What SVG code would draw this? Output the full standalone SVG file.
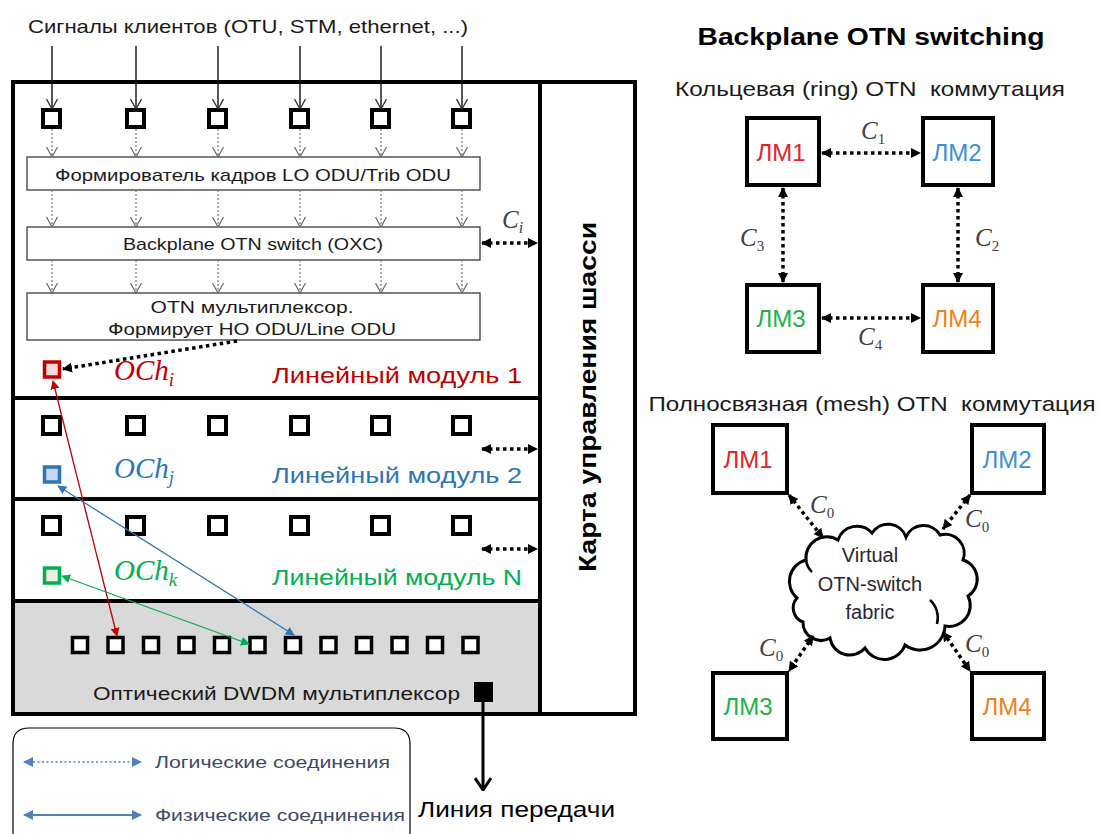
<svg xmlns="http://www.w3.org/2000/svg" width="1099" height="834" viewBox="0 0 1099 834">
  <style>
    .t { font-family: "Liberation Sans", Arial, sans-serif; fill: #1a1a1a; }
    .tb { font-family: "Liberation Sans", Arial, sans-serif; font-weight: bold; fill: #000; }
    .m { font-family: "Liberation Serif", "DejaVu Serif", serif; font-style: italic; }
    .c { font-family: "Liberation Serif", "DejaVu Serif", serif; font-style: italic; fill: #404040; font-size: 25px; }
    .sub { font-style: normal; font-size: 15px; }
    .frame { fill: none; stroke: #000; stroke-width: 4; }
    .sq { fill: #fff; stroke: #000; stroke-width: 4; }
    .sqd { fill: #fff; stroke: #000; stroke-width: 3.5; }
    .box { fill: #fff; stroke: #3a3a3a; stroke-width: 1.3; }
    .node { fill: #fff; stroke: #000; stroke-width: 4; }
    .lm { font-family: "Liberation Sans", Arial, sans-serif; font-size: 24px; }
    .in { stroke: #111; stroke-width: 1.4; fill: none; marker-end: url(#vOpen); }
    .flow { stroke: #777; stroke-width: 1.2; stroke-dasharray: 2 2; fill: none; marker-end: url(#vGray); }
    .logic { stroke: #000; stroke-width: 3.5; stroke-dasharray: 3.5 3.5; fill: none; marker-start: url(#tri); marker-end: url(#tri); }
    .logic1 { stroke: #000; stroke-width: 3.5; stroke-dasharray: 3.5 3.5; fill: none; marker-end: url(#tri); }
  </style>
  <defs>
    <marker id="vOpen" viewBox="0 0 10 12" refX="10" refY="6" markerWidth="10" markerHeight="12" markerUnits="userSpaceOnUse" orient="auto">
      <path d="M0,0.5 L10,6 L0,11.5" fill="none" stroke="#333" stroke-width="1.3"/>
    </marker>
    <marker id="vGray" viewBox="0 0 10 12" refX="10" refY="6" markerWidth="10" markerHeight="12" markerUnits="userSpaceOnUse" orient="auto">
      <path d="M0,0.5 L10,6 L0,11.5" fill="none" stroke="#666" stroke-width="1.2"/>
    </marker>
    <marker id="vBig" viewBox="0 0 14 18" refX="13" refY="9" markerWidth="14" markerHeight="18" markerUnits="userSpaceOnUse" orient="auto">
      <path d="M1,1 L13,9 L1,17" fill="none" stroke="#000" stroke-width="3"/>
    </marker>
    <marker id="tri" viewBox="0 0 10 10" refX="9" refY="5" markerWidth="10" markerHeight="10" markerUnits="userSpaceOnUse" orient="auto-start-reverse">
      <path d="M0,0 L10,5 L0,10 z" fill="#000"/>
    </marker>
    <marker id="triR" viewBox="0 0 10 10" refX="9" refY="5" markerWidth="9" markerHeight="9" markerUnits="userSpaceOnUse" orient="auto-start-reverse">
      <path d="M0,0 L10,5 L0,10 z" fill="#c00000"/>
    </marker>
    <marker id="triB" viewBox="0 0 10 10" refX="9" refY="5" markerWidth="9" markerHeight="9" markerUnits="userSpaceOnUse" orient="auto-start-reverse">
      <path d="M0,0 L10,5 L0,10 z" fill="#2e75b6"/>
    </marker>
    <marker id="triG" viewBox="0 0 10 10" refX="9" refY="5" markerWidth="9" markerHeight="9" markerUnits="userSpaceOnUse" orient="auto-start-reverse">
      <path d="M0,0 L10,5 L0,10 z" fill="#00b050"/>
    </marker>
    <marker id="triL" viewBox="0 0 10 10" refX="9" refY="5" markerWidth="10" markerHeight="10" markerUnits="userSpaceOnUse" orient="auto-start-reverse">
      <path d="M0,0 L10,5 L0,10 z" fill="#4f81bd"/>
    </marker>
  </defs>

  <rect width="1099" height="834" fill="#fff"/>

  <!-- chassis -->
  <g id="chassis">
    <rect x="13" y="601" width="527" height="113" fill="#d9d9d9"/>
    <rect class="frame" x="13" y="82" width="622" height="632"/>
    <line class="frame" x1="540" y1="82" x2="540" y2="714"/>
    <line class="frame" x1="13" y1="398" x2="540" y2="398"/>
    <line class="frame" x1="13" y1="499" x2="540" y2="499"/>
    <line class="frame" x1="13" y1="601" x2="540" y2="601"/>
    <text class="tb" font-size="23" transform="translate(596,397) rotate(-90)" text-anchor="middle" textLength="350" lengthAdjust="spacingAndGlyphs">Карта управления шасси</text>
  </g>

  <text class="t" x="28" y="33" font-size="19" textLength="440" lengthAdjust="spacingAndGlyphs">Сигналы клиентов (OTU, STM, ethernet, ...)</text>

  <!-- line module 1 -->
  <g id="module1">
    <g>
      <rect class="sq" x="43" y="110" width="17" height="17"/>
      <rect class="sq" x="127" y="110" width="17" height="17"/>
      <rect class="sq" x="209" y="110" width="17" height="17"/>
      <rect class="sq" x="291" y="110" width="17" height="17"/>
      <rect class="sq" x="372" y="110" width="17" height="17"/>
      <rect class="sq" x="453" y="110" width="17" height="17"/>
    </g>
    <rect class="box" x="27" y="157" width="453" height="33"/>
    <text class="t" x="253" y="181" font-size="17" text-anchor="middle" textLength="396" lengthAdjust="spacingAndGlyphs">Формирователь кадров LO ODU/Trib ODU</text>
    <rect class="box" x="27" y="227" width="453" height="33"/>
    <text class="t" x="253" y="250" font-size="17" text-anchor="middle" textLength="260" lengthAdjust="spacingAndGlyphs">Backplane OTN switch (OXC)</text>
    <rect class="box" x="27" y="293" width="453" height="47"/>
    <text class="t" x="252" y="313" font-size="17" text-anchor="middle" textLength="203" lengthAdjust="spacingAndGlyphs">OTN мультиплексор.</text>
    <text class="t" x="252" y="335" font-size="17" text-anchor="middle" textLength="288" lengthAdjust="spacingAndGlyphs">Формирует HO ODU/Line ODU</text>
    <rect x="44.5" y="362" width="15" height="15" fill="#f2dcdb" stroke="#c00000" stroke-width="3.5"/>
    <text class="m" x="114" y="380" font-size="29" fill="#c00000">OCh<tspan font-size="19" dy="6">i</tspan></text>
    <text class="t" x="522" y="383" font-size="22" text-anchor="end" style="fill:#c00000" textLength="250" lengthAdjust="spacingAndGlyphs">Линейный модуль 1</text>
    <text class="c" x="502" y="228">C<tspan font-size="16" dy="5">i</tspan></text>
  </g>

  <!-- line module 2 -->
  <g id="module2">
    <rect class="sq" x="43" y="417" width="17" height="17"/>
    <rect class="sq" x="127" y="417" width="17" height="17"/>
    <rect class="sq" x="209" y="417" width="17" height="17"/>
    <rect class="sq" x="291" y="417" width="17" height="17"/>
    <rect class="sq" x="372" y="417" width="17" height="17"/>
    <rect class="sq" x="453" y="417" width="17" height="17"/>
    <rect x="44.5" y="467" width="15" height="15" fill="#c6d9f0" stroke="#2e75b6" stroke-width="3.5"/>
    <text class="m" x="114" y="478" font-size="29" fill="#2e75b6">OCh<tspan font-size="19" dy="6">j</tspan></text>
    <text class="t" x="522" y="483" font-size="22" text-anchor="end" style="fill:#2e75b6" textLength="250" lengthAdjust="spacingAndGlyphs">Линейный модуль 2</text>
  </g>

  <!-- line module N -->
  <g id="moduleN">
    <rect class="sq" x="43" y="517" width="17" height="17"/>
    <rect class="sq" x="127" y="517" width="17" height="17"/>
    <rect class="sq" x="209" y="517" width="17" height="17"/>
    <rect class="sq" x="291" y="517" width="17" height="17"/>
    <rect class="sq" x="372" y="517" width="17" height="17"/>
    <rect class="sq" x="453" y="517" width="17" height="17"/>
    <rect x="44.5" y="568" width="15" height="15" fill="#ebf1de" stroke="#00b050" stroke-width="3.5"/>
    <text class="m" x="114" y="580" font-size="29" fill="#00b050">OCh<tspan font-size="19" dy="6">k</tspan></text>
    <text class="t" x="522" y="585" font-size="22" text-anchor="end" style="fill:#00b050" textLength="250" lengthAdjust="spacingAndGlyphs">Линейный модуль N</text>
  </g>

  <!-- optical DWDM multiplexer -->
  <g id="dwdm">
    <rect class="sqd" x="72.5" y="637.5" width="15" height="15"/>
    <rect class="sqd" x="108" y="637.5" width="15" height="15"/>
    <rect class="sqd" x="143.5" y="637.5" width="15" height="15"/>
    <rect class="sqd" x="179" y="637.5" width="15" height="15"/>
    <rect class="sqd" x="214.5" y="637.5" width="15" height="15"/>
    <rect class="sqd" x="250" y="637.5" width="15" height="15"/>
    <rect class="sqd" x="285.5" y="637.5" width="15" height="15"/>
    <rect class="sqd" x="321" y="637.5" width="15" height="15"/>
    <rect class="sqd" x="356.5" y="637.5" width="15" height="15"/>
    <rect class="sqd" x="392" y="637.5" width="15" height="15"/>
    <rect class="sqd" x="427.5" y="637.5" width="15" height="15"/>
    <rect class="sqd" x="463" y="637.5" width="15" height="15"/>
    <rect x="474" y="682" width="19" height="20" fill="#000"/>
    <text class="t" x="93" y="700" font-size="18" textLength="367" lengthAdjust="spacingAndGlyphs">Оптический DWDM мультиплексор</text>
  </g>

  <text class="t" x="418" y="817" font-size="22" style="fill:#000" textLength="197" lengthAdjust="spacingAndGlyphs">Линия передачи</text>

  <!-- legend -->
  <g id="legend">
    <path d="M13,834 V744 Q13,728 29,728 H394 Q410,728 410,744 V834" fill="none" stroke="#000" stroke-width="1.2"/>
    <line x1="24" y1="762" x2="141" y2="762" stroke="#4f81bd" stroke-width="1.6" stroke-dasharray="2 2.5" marker-start="url(#triL)" marker-end="url(#triL)"/>
    <text class="t" x="155" y="768" font-size="16" style="fill:#3c4a66" textLength="235" lengthAdjust="spacingAndGlyphs">Логические соединения</text>
    <line x1="24" y1="815" x2="141" y2="815" stroke="#4f81bd" stroke-width="2.2" marker-start="url(#triL)" marker-end="url(#triL)"/>
    <text class="t" x="155" y="821" font-size="16" style="fill:#3c4a66" textLength="250" lengthAdjust="spacingAndGlyphs">Физические соеднинения</text>
  </g>

  <!-- connectors of the chassis -->
  <g id="chassis-connectors">
    <line class="in" x1="52" y1="46" x2="52" y2="109"/>
    <line class="in" x1="136" y1="46" x2="136" y2="109"/>
    <line class="in" x1="218" y1="46" x2="218" y2="109"/>
    <line class="in" x1="300" y1="46" x2="300" y2="109"/>
    <line class="in" x1="381" y1="46" x2="381" y2="109"/>
    <line class="in" x1="462" y1="46" x2="462" y2="109"/>

    <line class="flow" x1="52" y1="129" x2="52" y2="157"/>
    <line class="flow" x1="136" y1="129" x2="136" y2="157"/>
    <line class="flow" x1="218" y1="129" x2="218" y2="157"/>
    <line class="flow" x1="300" y1="129" x2="300" y2="157"/>
    <line class="flow" x1="381" y1="129" x2="381" y2="157"/>
    <line class="flow" x1="462" y1="129" x2="462" y2="157"/>

    <line class="flow" x1="52" y1="190" x2="52" y2="227"/>
    <line class="flow" x1="136" y1="190" x2="136" y2="227"/>
    <line class="flow" x1="218" y1="190" x2="218" y2="227"/>
    <line class="flow" x1="300" y1="190" x2="300" y2="227"/>
    <line class="flow" x1="381" y1="190" x2="381" y2="227"/>
    <line class="flow" x1="462" y1="190" x2="462" y2="227"/>

    <line class="flow" x1="52" y1="260" x2="52" y2="293"/>
    <line class="flow" x1="136" y1="260" x2="136" y2="293"/>
    <line class="flow" x1="218" y1="260" x2="218" y2="293"/>
    <line class="flow" x1="300" y1="260" x2="300" y2="293"/>
    <line class="flow" x1="381" y1="260" x2="381" y2="293"/>
    <line class="flow" x1="462" y1="260" x2="462" y2="293"/>

    <line class="logic" x1="482" y1="243" x2="537" y2="243"/>
    <line class="logic" x1="482" y1="449" x2="537" y2="449"/>
    <line class="logic" x1="482" y1="549" x2="537" y2="549"/>
    <line class="logic1" x1="237" y1="341" x2="63" y2="369"/>

    <line x1="53" y1="381" x2="117" y2="636" stroke="#c00000" stroke-width="1.3" marker-start="url(#triR)" marker-end="url(#triR)"/>
    <line x1="58" y1="486" x2="294" y2="635" stroke="#2e75b6" stroke-width="1.3" marker-start="url(#triB)" marker-end="url(#triB)"/>
    <line x1="62" y1="576" x2="249" y2="644" stroke="#00b050" stroke-width="1.3" marker-start="url(#triG)" marker-end="url(#triG)"/>

    <line x1="483" y1="702" x2="483" y2="790" stroke="#000" stroke-width="3" marker-end="url(#vBig)"/>
  </g>

  <!-- ring switching -->
  <text class="tb" x="871" y="45" font-size="23" text-anchor="middle" textLength="347" lengthAdjust="spacingAndGlyphs">Backplane OTN switching</text>
  <text class="t" x="870" y="96" font-size="21" text-anchor="middle" textLength="390" lengthAdjust="spacingAndGlyphs">Кольцевая (ring) OTN&#160; коммутация</text>

  <g id="ring-lm1">
    <rect class="node" x="747" y="118" width="72" height="67"/>
    <text class="lm" x="781" y="161" text-anchor="middle" style="fill:#e0262b">ЛМ1</text>
  </g>
  <g id="ring-lm2">
    <rect class="node" x="923" y="118" width="70" height="67"/>
    <text class="lm" x="957" y="161" text-anchor="middle" style="fill:#3a8fd9">ЛМ2</text>
  </g>
  <g id="ring-lm3">
    <rect class="node" x="747" y="285" width="72" height="67"/>
    <text class="lm" x="781" y="327" text-anchor="middle" style="fill:#20b04a">ЛМ3</text>
  </g>
  <g id="ring-lm4">
    <rect class="node" x="923" y="285" width="70" height="67"/>
    <text class="lm" x="957" y="327" text-anchor="middle" style="fill:#f07f1e">ЛМ4</text>
  </g>
  <g id="ring-connectors">
    <line class="logic" x1="822" y1="153" x2="920" y2="153"/>
    <line class="logic" x1="783" y1="188" x2="783" y2="282"/>
    <line class="logic" x1="958" y1="188" x2="958" y2="282"/>
    <line class="logic" x1="822" y1="318" x2="920" y2="318"/>
    <text class="c" x="861" y="139">C<tspan class="sub" dy="5">1</tspan></text>
    <text class="c" x="740" y="246">C<tspan class="sub" dy="5">3</tspan></text>
    <text class="c" x="975" y="246">C<tspan class="sub" dy="5">2</tspan></text>
    <text class="c" x="858" y="345">C<tspan class="sub" dy="5">4</tspan></text>
  </g>

  <!-- mesh switching -->
  <text class="t" x="872" y="411" font-size="21" text-anchor="middle" textLength="447" lengthAdjust="spacingAndGlyphs">Полносвязная (mesh) OTN&#160; коммутация</text>

  <g id="mesh-lm1">
    <rect class="node" x="713" y="425" width="74" height="68"/>
    <text class="lm" x="748" y="468" text-anchor="middle" style="fill:#e0262b">ЛМ1</text>
  </g>
  <g id="mesh-lm2">
    <rect class="node" x="972" y="425" width="72" height="68"/>
    <text class="lm" x="1007" y="468" text-anchor="middle" style="fill:#3a8fd9">ЛМ2</text>
  </g>
  <g id="mesh-lm3">
    <rect class="node" x="713" y="673" width="74" height="66"/>
    <text class="lm" x="748" y="715" text-anchor="middle" style="fill:#20b04a">ЛМ3</text>
  </g>
  <g id="mesh-lm4">
    <rect class="node" x="972" y="673" width="72" height="66"/>
    <text class="lm" x="1007" y="715" text-anchor="middle" style="fill:#f07f1e">ЛМ4</text>
  </g>

  <g id="fabric">
    <path d="M797,598 A22,22 0 0 1 806,560 A21,21 0 0 1 838,540 A20,20 0 0 1 872,533 A19,19 0 0 1 906,537 A19,19 0 0 1 940,535 A19,19 0 0 1 963,560 A20,20 0 0 1 968,596 A21,21 0 0 1 945,626 A25,25 0 0 1 905,645 A22,22 0 0 1 865,648 A20,20 0 0 1 830,638 A18,18 0 0 1 803,622 A15,15 0 0 1 797,598 Z" fill="#fff" stroke="#000" stroke-width="3"/>
    <path d="M937,624 A24,24 0 0 0 930,600" fill="none" stroke="#000" stroke-width="2.5"/>
    <path d="M806,560 A20,20 0 0 0 812,572" fill="none" stroke="#000" stroke-width="2.5"/>
    <text class="t" x="870" y="562" font-size="20" text-anchor="middle" style="fill:#262633">Virtual</text>
    <text class="t" x="870" y="591" font-size="20" text-anchor="middle" style="fill:#262633">OTN-switch</text>
    <text class="t" x="870" y="619" font-size="20" text-anchor="middle" style="fill:#262633">fabric</text>
  </g>

  <g id="mesh-connectors">
    <line class="logic" x1="789" y1="495" x2="823" y2="538"/>
    <line class="logic" x1="970" y1="495" x2="943" y2="529"/>
    <line class="logic" x1="813" y1="636" x2="789" y2="671"/>
    <line class="logic" x1="943" y1="632" x2="970" y2="671"/>
    <text class="c" x="810" y="513">C<tspan class="sub" dy="5">0</tspan></text>
    <text class="c" x="965" y="527">C<tspan class="sub" dy="5">0</tspan></text>
    <text class="c" x="759" y="656">C<tspan class="sub" dy="5">0</tspan></text>
    <text class="c" x="965" y="652">C<tspan class="sub" dy="5">0</tspan></text>
  </g>
</svg>
